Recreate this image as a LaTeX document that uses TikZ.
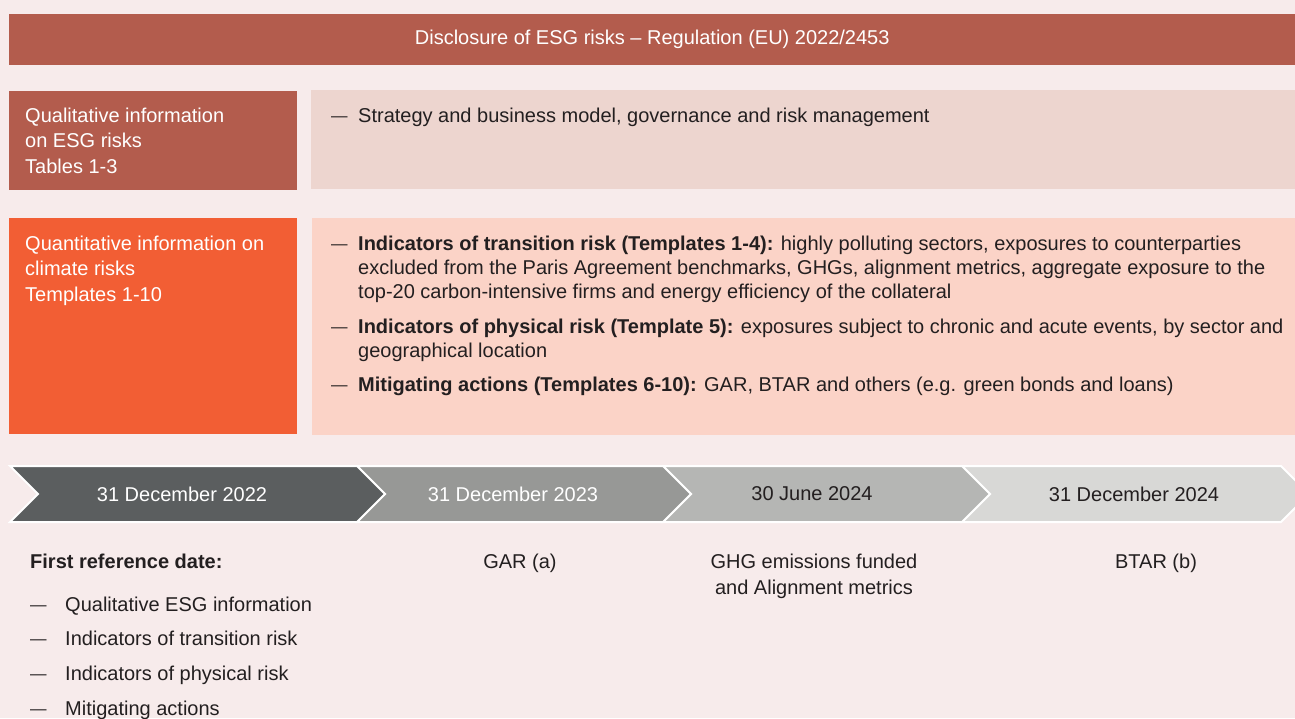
\documentclass[tikz,border=0pt]{standalone}
\usepackage{fontspec}
\setmainfont{Liberation Sans}
\definecolor{bgcol}{HTML}{F7EBEB}
\definecolor{brick}{HTML}{B35C4D}
\definecolor{brickl}{HTML}{EDD5CF}
\definecolor{orng}{HTML}{F25E34}
\definecolor{orngl}{HTML}{FBD3C7}
\definecolor{arA}{HTML}{5B5E5F}
\definecolor{arB}{HTML}{979896}
\definecolor{arC}{HTML}{B5B6B4}
\definecolor{arD}{HTML}{D8D8D6}
\definecolor{txt}{HTML}{231F20}
\tikzset{
  box/.style={anchor=north west, inner sep=0pt, minimum width=#1},
  body/.style={inner sep=0pt, font=\fontsize{20}{24}\selectfont, text=txt},
  tl/.style={body, anchor=north west, align=left},
  lefttxt/.style={inner sep=0pt, anchor=north west, align=left, font=\fontsize{20}{25.5}\selectfont, text=white},
  dashmark/.style={inner sep=0pt, anchor=base west, font=\fontsize{16.5}{16}\selectfont, text=txt},
  chev/.style={draw=white, line width=2pt, line join=miter},
  datetxt/.style={inner sep=0pt, font=\fontsize{20}{24}\selectfont},
  ctr/.style={body, align=center, font=\fontsize{20}{26}\selectfont, anchor=north},
}
\begin{document}
\begin{tikzpicture}[x=1pt,y=-1pt]
\fill[bgcol] (0,0) rectangle (1295,718);
\useasboundingbox (0,0) rectangle (1295,718);
\clip (0,0) rectangle (1295,718);

% title
\node[box=1286, fill=brick, minimum height=51, text=white, font=\fontsize{20}{24}\selectfont] (title) at (9,14) {Disclosure of ESG risks -- Regulation (EU) 2022/2453};

% qualitative
\node[box=288, fill=brick, minimum height=99] (qualbox) at (9,91) {};
\node[lefttxt] (qualtxt) at (25,107.5) {Qualitative information\\on ESG risks\\Tables 1-3};
\node[box=984, fill=brickl, minimum height=99] (qualr) at (311,90) {};
\node[dashmark] (d0) at (331,121) {—};
\node[tl] (q0) at (358,107.5) {Strategy and business model, governance and risk management};

% quantitative
\node[box=288, fill=orng, minimum height=216] (quanbox) at (9,218) {};
\node[lefttxt] (quantxt) at (25,235.5) {Quantitative information on\\climate risks\\Templates 1-10};
\node[box=983, fill=orngl, minimum height=217] (quanr) at (312,218) {};
\node[dashmark] (d1) at (331,249) {—};
\node[tl] (b1) at (358,235.5) {\textbf{Indicators of transition risk (Templates 1-4):} highly polluting sectors, exposures to counterparties\\excluded from the Paris Agreement benchmarks, GHGs, alignment metrics, aggregate exposure to the\\top-20 carbon-intensive firms and energy efficiency of the collateral};
\node[dashmark] (d2) at (331,332) {—};
\node[tl] (b2) at (358,318.5) {\textbf{Indicators of physical risk (Template 5):} exposures subject to chronic and acute events, by sector and\\geographical location};
\node[dashmark] (d3) at (331,390) {—};
\node[tl] (b3) at (358,376.5) {\textbf{Mitigating actions (Templates 6-10):} GAR, BTAR and others (e.g. green bonds and loans)};

% timeline chevrons
\filldraw[chev, fill=arD] (962,466) -- (1281,466) -- (1309,494) -- (1281,522) -- (962,522) -- (990,494) -- cycle;
\filldraw[chev, fill=arC] (663,466) -- (962,466) -- (990,494) -- (962,522) -- (663,522) -- (691,494) -- cycle;
\filldraw[chev, fill=arB] (357,466) -- (663,466) -- (691,494) -- (663,522) -- (357,522) -- (385,494) -- cycle;
\filldraw[chev, fill=arA] (10,466) -- (357,466) -- (385,494) -- (357,522) -- (10,522) -- (38,494) -- cycle;
\node[datetxt, text=white] (t1) at (182,494) {31 December 2022};
\node[datetxt, text=white] (t2) at (513,494) {31 December 2023};
\node[datetxt, text=txt] (t3) at (812,494) {30 June 2024};
\node[datetxt, text=txt] (t4) at (1134,494) {31 December 2024};

% bottom
\node[tl] (frd) at (30,553.5) {\textbf{First reference date:}};
\node[dashmark] (e1) at (30,610) {—};
\node[tl] (l1) at (65,596.5) {Qualitative ESG information};
\node[dashmark] (e2) at (30,644) {—};
\node[tl] (l2) at (65,630.5) {Indicators of transition risk};
\node[dashmark] (e3) at (30,679) {—};
\node[tl] (l3) at (65,665.5) {Indicators of physical risk};
\node[dashmark] (e4) at (30,714) {—};
\node[tl] (l4) at (65,700.5) {Mitigating actions};

\node[ctr] (gar) at (520,553.5) {GAR (a)};
\node[ctr] (ghg) at (814,553.5) {GHG emissions funded\\and Alignment metrics};
\node[ctr] (btar) at (1156,553.5) {BTAR (b)};
\end{tikzpicture}
\end{document}
